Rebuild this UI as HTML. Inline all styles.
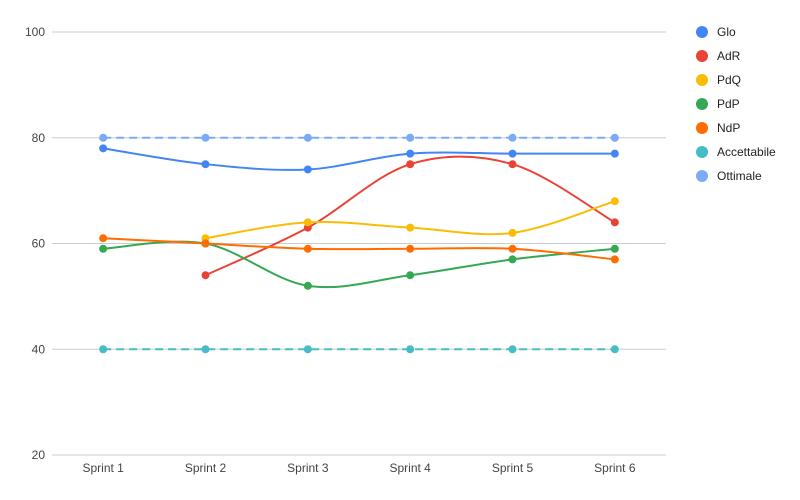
<!DOCTYPE html>
<html><head><meta charset="utf-8"><style>
html,body{margin:0;padding:0;background:#fff;}
svg{display:block;font-family:"Liberation Sans",Arial,sans-serif;}
</style></head><body>
<svg id="chart" width="800" height="500"></svg>
<script>
const categories=["Sprint 1","Sprint 2","Sprint 3","Sprint 4","Sprint 5","Sprint 6"];
const seriesNames=["Glo","AdR","PdQ","PdP","NdP","Accettabile","Ottimale"];
const gloValues=[78,75,74,77,77,77];
const adrValues=[null,54,63,75,75,64];
const pdqValues=[null,61,64,63,62,68];
const pdpValues=[59,60,52,54,57,59];
const ndpValues=[61,60,59,59,59,57];
const accettabileValues=[40,40,40,40,40,40];
const ottimaleValues=[80,80,80,80,80,80];
const yTicks=[20,40,60,80,100];

const allValues=[gloValues,adrValues,pdqValues,pdpValues,ndpValues,accettabileValues,ottimaleValues];
const colors=["#4285f4","#ea4335","#fbbc04","#34a853","#ff6d01","#46bdc6","#7baaf7"];
const dashed=[false,false,false,false,false,true,true];
const NS="http://www.w3.org/2000/svg";
const svg=document.getElementById("chart");
const L=52,R=666,T=32,B=455;
const yMin=20,yMax=100;
const band=(R-L)/categories.length;
function x(i){return L+band*(i+0.5);}
function y(v){return B-(v-yMin)/(yMax-yMin)*(B-T);}
function mk(tag,attrs,parent){const e=document.createElementNS(NS,tag);for(const k in attrs)e.setAttribute(k,attrs[k]);(parent||svg).appendChild(e);return e;}

const grid=mk("g",{});


yTicks.forEach(t=>{
  const ln=mk("line",{x1:L,x2:R,y1:y(t),y2:y(t),stroke:"#ccc","stroke-width":1},grid);
  
  
  const tx=mk("text",{x:45,y:y(t)+4,"text-anchor":"end","font-size":12,fill:"#444"});
  tx.textContent=t;
  
  
});
categories.forEach((c,i)=>{
  const tx=mk("text",{x:x(i),y:472,"text-anchor":"middle","font-size":12,fill:"#444"});
  tx.textContent=c;
  
  
});

function smoothPath(pts){
  if(pts.length<2)return "";
  let d="M"+pts[0][0]+","+pts[0][1];
  const k=0.5/3*2;
  for(let i=0;i<pts.length-1;i++){
    const p0=pts[i-1]||pts[i],p1=pts[i],p2=pts[i+1],p3=pts[i+2]||p2;
    const c1=[p1[0]+(p2[0]-p0[0])*k/2,p1[1]+(p2[1]-p0[1])*k/2];
    const c2=[p2[0]-(p3[0]-p1[0])*k/2,p2[1]-(p3[1]-p1[1])*k/2];
    d+=" C"+c1[0]+","+c1[1]+" "+c2[0]+","+c2[1]+" "+p2[0]+","+p2[1];
  }
  return d;
}

allValues.forEach((vals,s)=>{
  const g=mk("g",{});
  
  
  const pts=[];
  vals.forEach((v,i)=>{if(v!==null)pts.push([x(i),y(v)]);});
  const p=mk("path",{d:dashed[s]?pts.map((q,i)=>(i?"L":"M")+q[0]+","+q[1]).join(" "):smoothPath(pts),fill:"none",stroke:colors[s],"stroke-width":2,"stroke-dasharray":dashed[s]?"8,5":"none"},g);
  
  
  vals.forEach((v,i)=>{
    if(v===null)return;
    const c=mk("circle",{cx:x(i),cy:y(v),r:4,fill:colors[s]},g);
    
    
  });
});

const leg=mk("g",{});


seriesNames.forEach((n,s)=>{
  const ly=32+s*24;
  const e=mk("g",{},leg);
  
  
  mk("circle",{cx:702,cy:ly,r:6,fill:colors[s]},e);
  const t=mk("text",{x:717,y:ly+4,"font-size":12,fill:"#222"},e);
  t.textContent=n;
});
</script>
</body></html>
